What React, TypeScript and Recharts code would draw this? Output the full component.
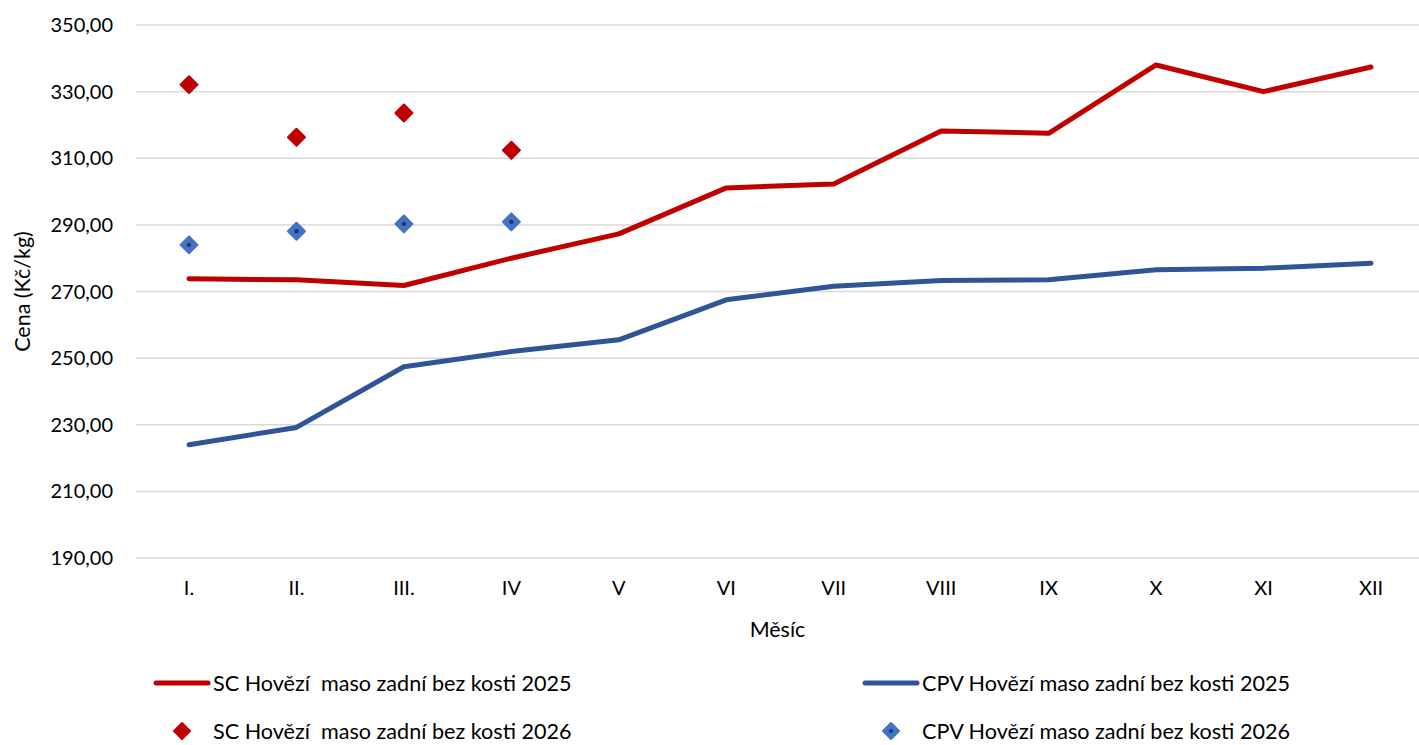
import React from 'react';
import { LineChart, Line, XAxis, YAxis, CartesianGrid, Legend } from 'recharts';

const months = ['I.', 'II.', 'III.', 'IV', 'V', 'VI', 'VII', 'VIII', 'IX', 'X', 'XI', 'XII'];
const sc2025 = [273.8, 273.5, 271.8, 280.0, 287.3, 301.1, 302.3, 318.2, 317.5, 338.0, 330.0, 337.4];
const cpv2025 = [224.0, 229.2, 247.4, 252.0, 255.5, 267.5, 271.6, 273.3, 273.5, 276.5, 277.0, 278.5];
const sc2026 = [332.1, 316.3, 323.6, 312.4];
const cpv2026 = [284.0, 288.1, 290.3, 290.9];
const yTicks = [190, 210, 230, 250, 270, 290, 310, 330, 350];

const seriesNames = {
  sc2025: 'SC Hovězí  maso zadní bez kosti 2025',
  cpv2025: 'CPV Hovězí maso zadní bez kosti 2025',
  sc2026: 'SC Hovězí  maso zadní bez kosti 2026',
  cpv2026: 'CPV Hovězí maso zadní bez kosti 2026',
};

const data = months.map((m, i) => ({
  month: m,
  sc2025: sc2025[i],
  cpv2025: cpv2025[i],
  sc2026: i < sc2026.length ? sc2026[i] : null,
  cpv2026: i < cpv2026.length ? cpv2026[i] : null,
}));

const RED = '#C00000';
const NAVY = '#2F5597';
const BLUE = '#4472C4';
const FONT = 'Lato, "Open Sans", sans-serif';

const diamondPath = (cx: number, cy: number, r: number) =>
  `M${cx},${cy - r} L${cx + r},${cy} L${cx},${cy + r} L${cx - r},${cy} Z`;

const RedDiamond = (props: any) => {
  const { cx, cy } = props;
  if (cx == null || cy == null || props.value == null) return <g />;
  return (
    <path d={diamondPath(cx, cy, 8.5)} fill={RED} stroke={RED} strokeWidth={2} strokeLinejoin="round" />
  );
};

const BlueDiamond = (props: any) => {
  const { cx, cy } = props;
  if (cx == null || cy == null || props.value == null) return <g />;
  return (
    <g>
      <path d={diamondPath(cx, cy, 8.5)} fill={BLUE} stroke={BLUE} strokeWidth={2} strokeLinejoin="round" />
      <circle cx={cx} cy={cy} r={2.2} fill="#1F3864" />
    </g>
  );
};

const fmt = (v: number) => v.toFixed(2).replace('.', ',');

const LegendIcon = ({ kind }: { kind: string }) => {
  if (kind === 'sc2025' || kind === 'cpv2025') {
    const c = kind === 'sc2025' ? RED : NAVY;
    return (
      <svg width={58} height={12} style={{ display: 'block' }}>
        <line x1={3} y1={6} x2={55} y2={6} stroke={c} strokeWidth={5} strokeLinecap="round" />
      </svg>
    );
  }
  const c = kind === 'sc2026' ? RED : BLUE;
  return (
    <svg width={58} height={22} style={{ display: 'block' }}>
      <path d={diamondPath(29, 11, 8)} fill={c} stroke={c} strokeWidth={2} strokeLinejoin="round" />
      {kind === 'cpv2026' && <circle cx={29} cy={11} r={2} fill="#1F3864" />}
    </svg>
  );
};

const LegendItem = ({ kind, left, top }: { kind: string; left: number; top: number }) => (
  <div style={{ position: 'absolute', left, top, height: 30, display: 'flex', alignItems: 'center' }}>
    <LegendIcon kind={kind} />
    <span style={{ whiteSpace: 'pre', fontFamily: FONT, fontSize: 21.6, color: '#000', marginLeft: 2 }}>
      {(seriesNames as any)[kind]}
    </span>
  </div>
);

const CustomLegend = () => (
  <div style={{ position: 'relative', width: 1419, height: 100 }}>
    <LegendItem kind="sc2025" left={153} top={23} />
    <LegendItem kind="cpv2025" left={862} top={23} />
    <LegendItem kind="sc2026" left={153} top={71} />
    <LegendItem kind="cpv2026" left={862} top={71} />
  </div>
);

export default function App() {
  return (
    <div style={{ position: 'absolute', left: 0, top: 0, width: 1419, height: 745, overflow: 'hidden', background: '#fff' }}>
      <LineChart width={1419} height={745} data={data} margin={{ top: 25, right: 0, bottom: 0, left: 0 }}>
        <CartesianGrid vertical={false} stroke="#D9D9D9" strokeWidth={1.5} />
        <XAxis
          dataKey="month"
          axisLine={false}
          tickLine={false}
          tickSize={0}
          tickMargin={23}
          height={87}
          padding={{ left: 53, right: 48 }}
          interval={0}
          tick={{ fill: '#000', fontSize: 20, fontFamily: FONT }}
          label={{ value: 'Měsíc', position: 'insideBottom', offset: 8, fill: '#000', fontSize: 21.5, fontFamily: FONT }}
        />
        <YAxis
          domain={[190, 350]}
          ticks={yTicks}
          interval={0}
          width={136}
          axisLine={false}
          tickLine={false}
          tickSize={0}
          tickMargin={23}
          tickFormatter={fmt}
          tick={{ fill: '#000', fontSize: 20, fontFamily: FONT }}
          label={{ value: 'Cena (Kč/kg)', angle: -90, position: 'insideLeft', offset: 22, style: { textAnchor: 'middle' }, fill: '#000', fontSize: 21.5, fontFamily: FONT }}
        />
        <Legend verticalAlign="bottom" content={() => <CustomLegend />} wrapperStyle={{ height: 100 }} />
        <Line dataKey="sc2025" name={seriesNames.sc2025} stroke={RED} strokeWidth={5} dot={false} activeDot={false} isAnimationActive={false} strokeLinejoin="round" strokeLinecap="round" />
        <Line dataKey="cpv2025" name={seriesNames.cpv2025} stroke={NAVY} strokeWidth={5} dot={false} activeDot={false} isAnimationActive={false} strokeLinejoin="round" strokeLinecap="round" />
        <Line dataKey="sc2026" name={seriesNames.sc2026} stroke="none" strokeWidth={0} dot={<RedDiamond />} activeDot={false} isAnimationActive={false} connectNulls={false} />
        <Line dataKey="cpv2026" name={seriesNames.cpv2026} stroke="none" strokeWidth={0} dot={<BlueDiamond />} activeDot={false} isAnimationActive={false} connectNulls={false} />
      </LineChart>
    </div>
  );
}
